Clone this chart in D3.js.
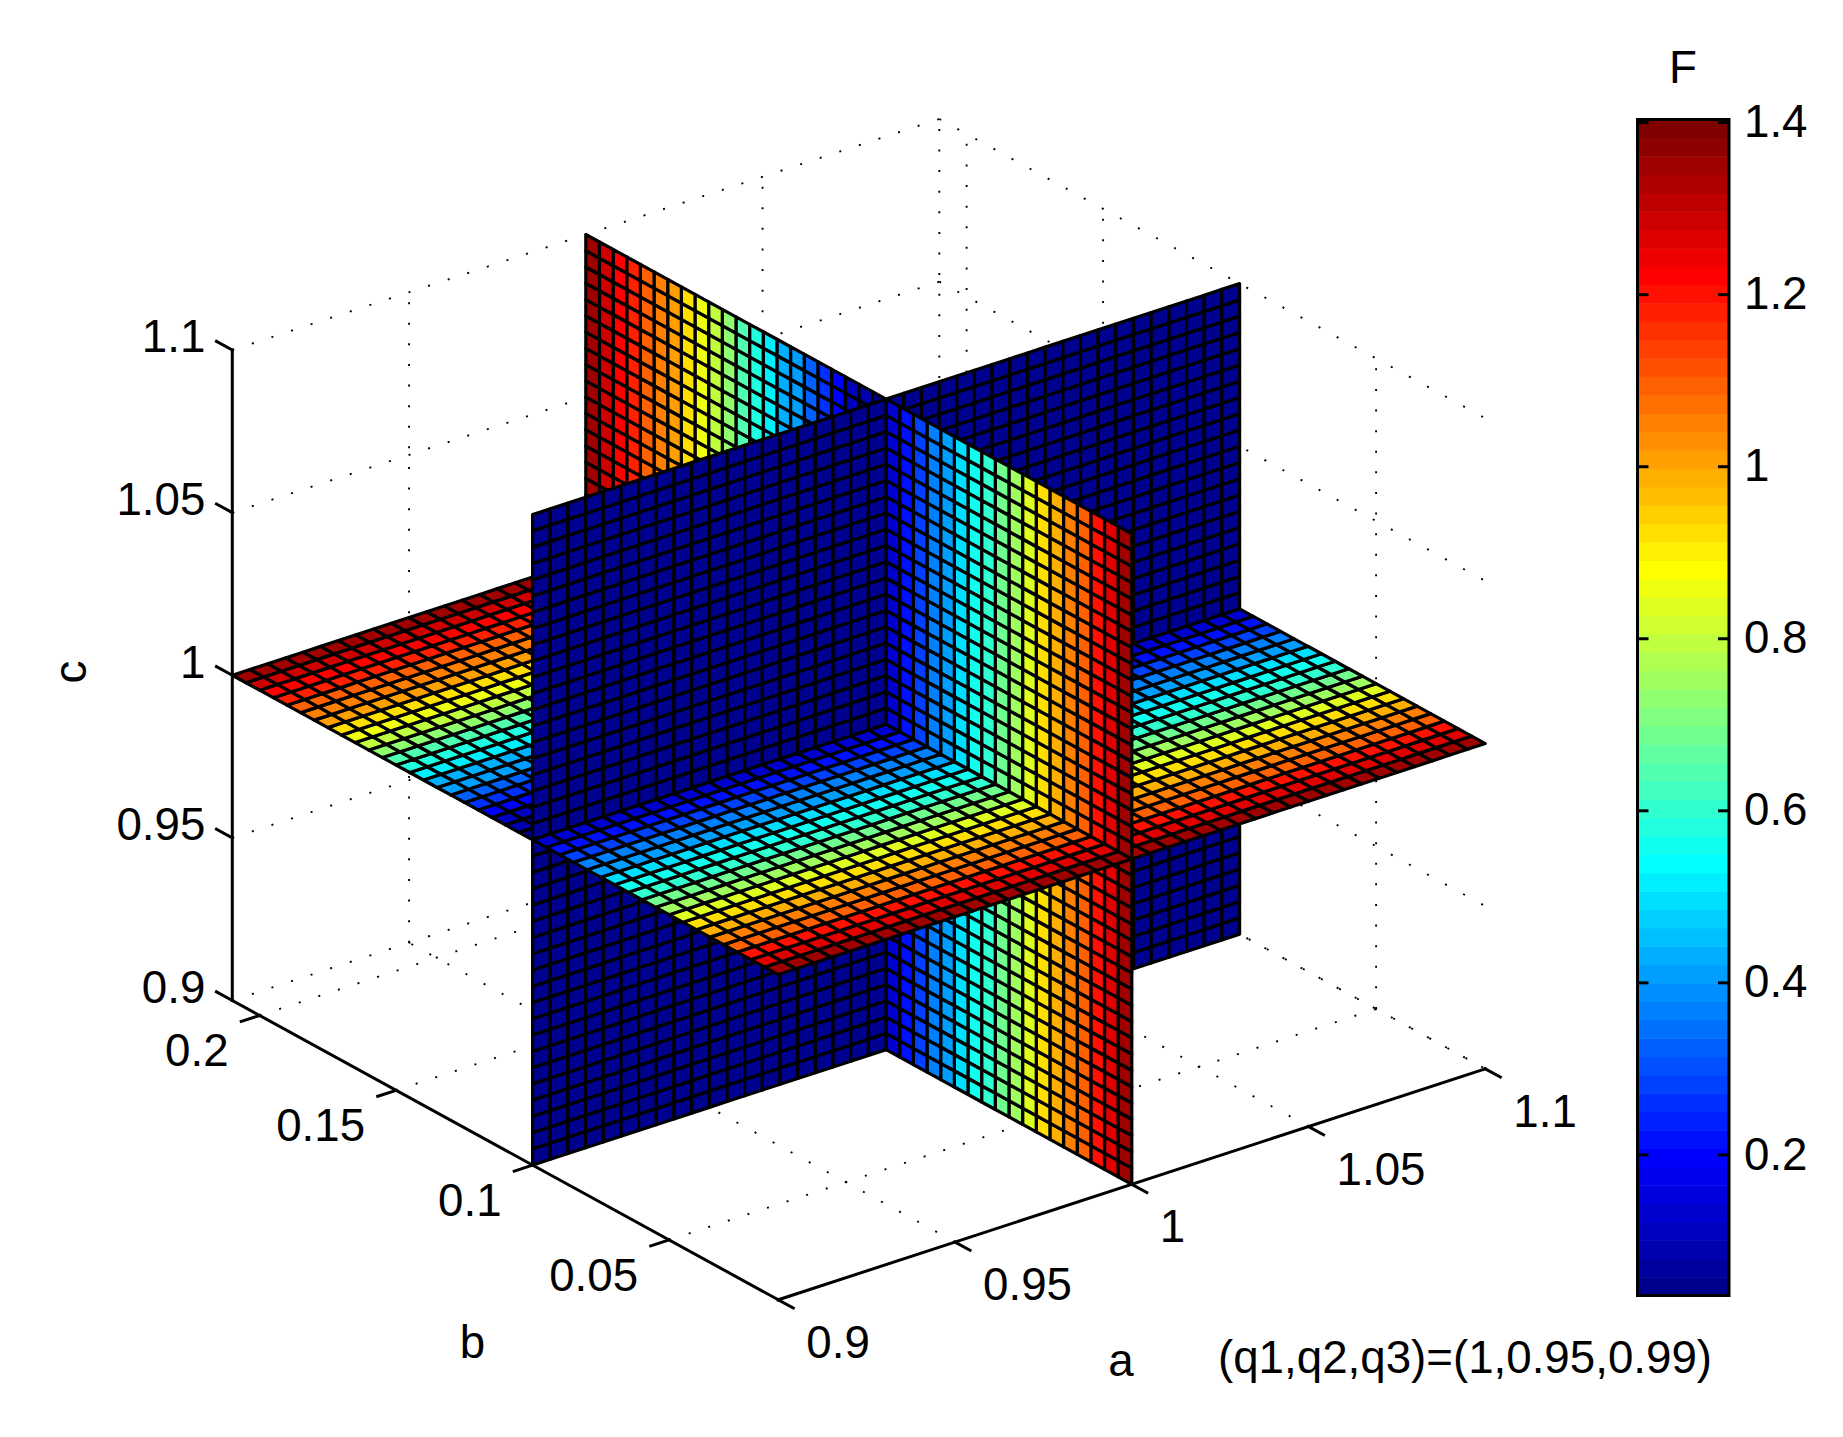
<!DOCTYPE html>
<html>
<head>
<meta charset="utf-8">
<script src="https://d3js.org/d3.v7.min.js"></script>
<style>
html,body{margin:0;padding:0;background:#fff}
svg{display:block}
text{font-family:"Liberation Sans",Arial,sans-serif;fill:#000}
</style>
</head>
<body>
<script>
// ---- values ----
const aTicks = [0.9, 0.95, 1, 1.05, 1.1];
const aTickLabels = ["0.9", "0.95", "1", "1.05", "1.1"];
const bTicks = [0.05, 0.1, 0.15, 0.2];
const bTickLabels = ["0.05", "0.1", "0.15", "0.2"];
const cTicks = [0.9, 0.95, 1, 1.05, 1.1];
const cTickLabels = ["0.9", "0.95", "1", "1.05", "1.1"];
const colorTicks = [0.2, 0.4, 0.6, 0.8, 1, 1.2, 1.4];
const colorTickLabels = ["0.2", "0.4", "0.6", "0.8", "1", "1.2", "1.4"];
const aLimits = [0.9, 1.1];
const bLimits = [0.01, 0.21];
const cLimits = [0.9, 1.1];
const fLimits = [0.036, 1.403];
const sliceA = 1, sliceB = 0.1, sliceC = 1;
const cellsPerSide = 40;
// F for each cell column along b, from b = 0.01 upward (F is flat along a and c)
const fAlongB = [
  1.34, 1.27, 1.19, 1.10, 1.04, 0.98, 0.93, 0.83, 0.76, 0.68,
  0.61, 0.55, 0.49, 0.42, 0.36, 0.29, 0.21, 0.14,
  0.05, 0.08, 0.12, 0.19, 0.27, 0.335, 0.40, 0.44, 0.51, 0.58, 0.655, 0.72,
  0.785, 0.85, 0.93, 1.00, 1.05, 1.10, 1.17, 1.23, 1.295, 1.36
];
const fOnSliceB = 0.05;
const labels = {a: "a", b: "b", c: "c", f: "F", note: "(q1,q2,q3)=(1,0.95,0.99)"};

// ---- layout ----
const W = 1843, H = 1437;
const origin = [778.3, 1299.8];
const aX = d3.scaleLinear().domain(aLimits).range([0, 707]);
const aY = d3.scaleLinear().domain(aLimits).range([0, -231]);
const bX = d3.scaleLinear().domain(bLimits).range([0, -546]);
const bY = d3.scaleLinear().domain(bLimits).range([0, -299.3]);
const cY = d3.scaleLinear().domain(cLimits).range([0, -650.5]);
const proj = (a, b, c) => [origin[0] + aX(a) + bX(b), origin[1] + aY(a) + bY(b) + cY(c)];

// MATLAB jet(64)
const jet = d3.range(64).map(i => {
  const t = (i + 1) / 64;
  const ramp = v => Math.max(0, Math.min(1, v));
  const r = ramp(Math.min(4 * t - 1.5, -4 * t + 4.5));
  const g = ramp(Math.min(4 * t - 0.5, -4 * t + 3.5));
  const b = ramp(Math.min(4 * t + 0.5, -4 * t + 2.5));
  return d3.rgb(Math.round(r * 255), Math.round(g * 255), Math.round(b * 255)).formatHex();
});
const color = d3.scaleQuantize().domain(fLimits).range(jet);

const svg = d3.select("body").append("svg").attr("width", W).attr("height", H)
  .attr("viewBox", `0 0 ${W} ${H}`);
svg.append("rect").attr("width", W).attr("height", H).attr("fill", "#fff");

// ---- dotted grid on the floor and the two back walls ----
const [a0, a1] = aLimits, [b0, b1] = bLimits, [c0, c1] = cLimits;
const gridSegs = [];
aTicks.forEach(a => {
  if (a !== a0) gridSegs.push([[a, b0, c0], [a, b1, c0]]);
  if (a !== a0) gridSegs.push([[a, b1, c0], [a, b1, c1]]);
});
bTicks.forEach(b => {
  gridSegs.push([[a0, b, c0], [a1, b, c0]]);
  gridSegs.push([[a1, b, c0], [a1, b, c1]]);
});
cTicks.forEach(c => {
  if (c !== c0) {
    gridSegs.push([[a0, b1, c], [a1, b1, c]]);
    gridSegs.push([[a1, b1, c], [a1, b0, c]]);
  }
});
gridSegs.push([[a0, b1, c0], [a1, b1, c0]]);
gridSegs.push([[a1, b1, c0], [a1, b0, c0]]);
const line = d3.line();
svg.append("g").attr("fill", "none").attr("stroke", "#000")
  .attr("stroke-width", 1.9).attr("stroke-dasharray", "2 18.6")
  .selectAll("path").data(gridSegs).join("path")
  .attr("d", s => line(s.map(p => proj(...p))));

// ---- solid axes ----
const axisG = svg.append("g").attr("fill", "none").attr("stroke", "#000")
  .attr("stroke-width", 3).attr("stroke-linecap", "square");
const axisSegs = [
  [proj(a0, b0, c0), proj(a1, b0, c0)],
  [proj(a0, b0, c0), proj(a0, b1, c0)],
  [proj(a0, b1, c0), proj(a0, b1, c1)]
];
const bVec = [bX(b1), bY(b1)], aVec = [aX(a1), aY(a1)];
const tickA = [-bVec[0] * 0.0275, -bVec[1] * 0.0275];
const tickB = [-aVec[0] * 0.026, -aVec[1] * 0.026];
const tickC = [bVec[0] * 0.029, bVec[1] * 0.029];
const seg = (p, d) => [p, [p[0] + d[0], p[1] + d[1]]];
aTicks.forEach(a => axisSegs.push(seg(proj(a, b0, c0), tickA)));
bTicks.forEach(b => axisSegs.push(seg(proj(a0, b, c0), tickB)));
cTicks.forEach(c => axisSegs.push(seg(proj(a0, b1, c), tickC)));
axisG.selectAll("path").data(axisSegs).join("path").attr("d", d => line(d));

// ---- tick labels ----
const FS = 45.7;
const tg = svg.append("g").attr("font-size", FS);
aTicks.forEach((a, i) => {
  const p = proj(a, b0, c0);
  tg.append("text").attr("x", p[0] + 28).attr("y", p[1] + 42).attr("dy", "0.35em").text(aTickLabels[i]);
});
bTicks.forEach((b, i) => {
  const p = proj(a0, b, c0);
  tg.append("text").attr("x", p[0] - 31).attr("y", p[1] + 35).attr("dy", "0.35em")
    .attr("text-anchor", "end").text(bTickLabels[i]);
});
cTicks.forEach((c, i) => {
  const p = proj(a0, b1, c);
  tg.append("text").attr("x", p[0] - 27).attr("y", p[1] - 13.5).attr("dy", "0.35em")
    .attr("text-anchor", "end").text(cTickLabels[i]);
});

// ---- the three slices, split at their mutual intersections and painted back to front ----
const aEdges = d3.range(cellsPerSide + 1).map(d3.scaleLinear().domain([0, cellsPerSide]).range(aLimits));
const bEdges = d3.range(cellsPerSide + 1).map(d3.scaleLinear().domain([0, cellsPerSide]).range(bLimits));
const cEdges = d3.range(cellsPerSide + 1).map(d3.scaleLinear().domain([0, cellsPerSide]).range(cLimits));
const sideA = m => m > sliceA ? -1 : 1;
const sideB = m => m > sliceB ? -1 : 1;
const sideC = m => m < sliceC ? -1 : 1;
const cells = [];
const mid = (e, i) => (e[i] + e[i + 1]) / 2;
d3.range(cellsPerSide).forEach(i => d3.range(cellsPerSide).forEach(j => {
  // a = const slice
  cells.push({
    f: fAlongB[i],
    pts: [[sliceA, bEdges[i], cEdges[j]], [sliceA, bEdges[i + 1], cEdges[j]], [sliceA, bEdges[i + 1], cEdges[j + 1]], [sliceA, bEdges[i], cEdges[j + 1]]],
    key: [0, sideB(mid(bEdges, i)), sideC(mid(cEdges, j))]
  });
  // b = const slice
  cells.push({
    f: fOnSliceB,
    pts: [[aEdges[i], sliceB, cEdges[j]], [aEdges[i + 1], sliceB, cEdges[j]], [aEdges[i + 1], sliceB, cEdges[j + 1]], [aEdges[i], sliceB, cEdges[j + 1]]],
    key: [sideA(mid(aEdges, i)), 0, sideC(mid(cEdges, j))]
  });
  // c = const slice
  cells.push({
    f: fAlongB[j],
    pts: [[aEdges[i], bEdges[j], sliceC], [aEdges[i + 1], bEdges[j], sliceC], [aEdges[i + 1], bEdges[j + 1], sliceC], [aEdges[i], bEdges[j + 1], sliceC]],
    key: [sideA(mid(aEdges, i)), sideB(mid(bEdges, j)), 0]
  });
}));
cells.sort((p, q) => d3.ascending(p.key[0], q.key[0]) || d3.ascending(p.key[1], q.key[1]) || d3.ascending(p.key[2], q.key[2]));
svg.append("g").attr("stroke", "#000").attr("stroke-width", 3.2).attr("stroke-linejoin", "round")
  .selectAll("path").data(cells).join("path")
  .attr("fill", d => color(d.f))
  .attr("d", d => line(d.pts.map(p => proj(...p))) + "Z");

// ---- colour bar ----
const cbX0 = 1637.5, cbX1 = 1729;
const cbY = d3.scaleLinear().domain(fLimits).range([1295.5, 119.5]);
const cb = svg.append("g");
cb.selectAll("rect").data(jet).join("rect")
  .attr("x", cbX0).attr("width", cbX1 - cbX0)
  .attr("y", d => cbY(color.invertExtent(d)[1]))
  .attr("height", d => cbY(color.invertExtent(d)[0]) - cbY(color.invertExtent(d)[1]) + 0.5)
  .attr("fill", d => d);
cb.append("rect").attr("x", cbX0).attr("y", 119.5).attr("width", cbX1 - cbX0).attr("height", 1295.5 - 119.5)
  .attr("fill", "none").attr("stroke", "#000").attr("stroke-width", 3);
const axisR = d3.axisRight(cbY).tickValues(colorTicks).tickSizeInner(-11).tickSizeOuter(0).tickPadding(15)
  .tickFormat((d, i) => colorTickLabels[i]);
const axisL = d3.axisLeft(cbY).tickValues(colorTicks).tickSizeInner(-11).tickSizeOuter(0).tickFormat("");
const styleAxis = g => {
  g.select(".domain").remove();
  g.selectAll("line").attr("stroke", "#000").attr("stroke-width", 3);
  g.selectAll("text").attr("font-size", FS).attr("font-family", '"Liberation Sans",Arial,sans-serif').attr("fill", "#000");
  g.selectAll("text").attr("x", 15).attr("y", 0);
};
svg.append("g").attr("transform", `translate(${cbX1},0)`).call(axisR).call(styleAxis);
svg.append("g").attr("transform", `translate(${cbX0},0)`).call(axisL).call(g => {
  g.select(".domain").remove();
  g.selectAll("line").attr("stroke", "#000").attr("stroke-width", 3);
});

// ---- titles ----
const tt = svg.append("g").attr("font-size", FS);
tt.append("text").attr("x", 1683).attr("y", 83).attr("text-anchor", "middle").text(labels.f);
tt.append("text").attr("x", 472.5).attr("y", 1358).attr("text-anchor", "middle").text(labels.b);
tt.append("text").attr("x", 1121).attr("y", 1376).attr("text-anchor", "middle").text(labels.a);
tt.append("text").attr("transform", "translate(86,672) rotate(-90)").attr("text-anchor", "middle").text(labels.c);
tt.append("text").attr("x", 1218).attr("y", 1373).text(labels.note);
</script>
</body>
</html>
